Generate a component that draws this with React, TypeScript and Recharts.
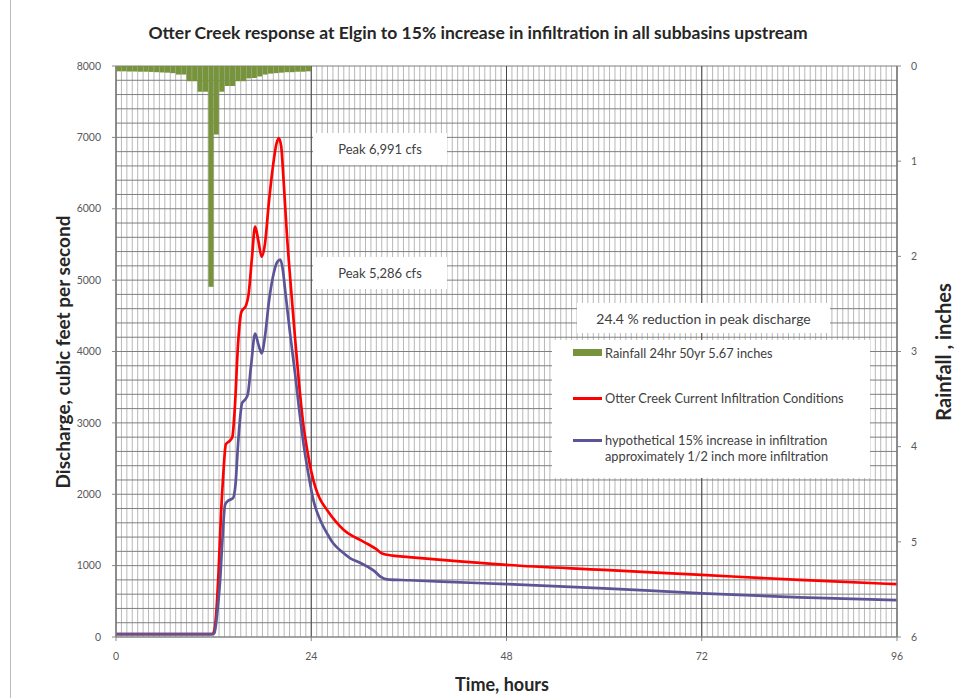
import React from 'react';
import { ComposedChart, Bar, Line, XAxis, YAxis, CartesianGrid } from 'recharts';

// rainfall, 40-minute blocks (centre of block, hours) and depth in inches
const rainTime = [
  0.33, 1, 1.67, 2.33, 3, 3.67, 4.33, 5, 5.67, 6.33, 7, 7.67,
  8.33, 9, 9.67, 10.33, 11, 11.67, 12.33, 13, 13.67, 14.33, 15, 15.67,
  16.33, 17, 17.67, 18.33, 19, 19.67, 20.33, 21, 21.67, 22.33, 23, 23.67
];
const rainInches = [
  0.056, 0.056, 0.058, 0.058, 0.06, 0.06, 0.062, 0.065, 0.068, 0.07, 0.075, 0.09,
  0.09, 0.16, 0.16, 0.27, 0.27, 2.32, 0.72, 0.27, 0.21, 0.21, 0.16, 0.16,
  0.13, 0.126, 0.11, 0.09, 0.08, 0.075, 0.07, 0.065, 0.065, 0.06, 0.06, 0.056
];

// Otter Creek, current infiltration conditions
const currentTime = [
  0, 11.8, 12.0, 12.3, 12.6, 12.9, 13.2, 13.5, 14.0, 14.3, 14.6, 15.0, 15.4, 16.0, 16.3,
  16.7, 17.1, 17.5, 17.9, 18.3, 18.8, 19.3, 19.7, 20.0, 20.3, 20.6, 21.0, 21.5, 22.0,
  22.5, 23.0, 23.5, 24.0, 24.5, 25.0, 26, 27, 28, 29, 30, 31, 32, 32.7, 34, 36, 40,
  48, 60, 72, 84, 96
];
const currentCfs = [
  40, 40, 60, 300, 900, 1700, 2300, 2700, 2750, 2800, 3200, 4100, 4550, 4650, 4800,
  5300, 5750, 5550, 5330, 5500, 6100, 6600, 6900, 6991, 6880, 6400, 5650, 4900, 4200,
  3550, 3000, 2620, 2320, 2100, 1950, 1770, 1620, 1500, 1420, 1360, 1300, 1230, 1170, 1140, 1120, 1080,
  1010, 940, 870, 800, 740
];

// hypothetical 15% increase in infiltration
const futureTime = [
  0, 11.9, 12.1, 12.5, 12.8, 13.1, 13.4, 13.7, 14.4, 14.7, 15.0, 15.5, 15.9, 16.2, 16.6,
  17.1, 17.5, 17.9, 18.3, 18.8, 19.3, 19.8, 20.2, 20.5, 20.8, 21.4, 22.0, 22.5, 23.0,
  23.7, 24.3, 25.1, 26.0, 26.7, 27.7, 28.8, 30.0, 30.9, 31.8, 32.5, 33.3, 36, 40,
  48, 60, 72, 84, 96
];
const futureCfs = [
  40, 40, 60, 400, 800, 1400, 1850, 1900, 1950, 2150, 2700, 3280, 3330, 3400, 3800,
  4250, 4100, 3975, 4200, 4700, 5050, 5250, 5286, 5150, 4850, 4250, 3700, 3200, 2750,
  2250, 1900, 1640, 1440, 1313, 1200, 1103, 1040, 985, 920, 845, 808, 795, 775,
  742, 682, 612, 556, 518
];

const hourTicks = [0, 24, 48, 72, 96];
const cfsTicks = [0, 1000, 2000, 3000, 4000, 5000, 6000, 7000, 8000];
const rainTicks = [0, 1, 2, 3, 4, 5, 6];
const minorHourTicks = Array.from({ length: 145 }, (_, i) => (i * 2) / 3);
const minorCfsTicks = Array.from({ length: 41 }, (_, i) => i * 200);

const rainRows = rainTime.map((t, i) => ({ t, rain: rainInches[i] }));
const currentRows = currentTime.map((t, i) => ({ t, q: currentCfs[i] }));
const futureRows = futureTime.map((t, i) => ({ t, q: futureCfs[i] }));

const GREEN = '#77933C';
const RED = '#ff0000';
const BLUE = '#5b5496';
const TICK = { fill: '#595959', fontSize: 10.5, fontFamily: 'Lato, sans-serif' };
const RAIN_BAR_W = 5.1;

// plot rectangle, used only to place the grid lines
const PLOT = { left: 116, top: 66, width: 781, height: 571 };

const xGrid = (vals: number[]) => (p: any) => {
  const o = p && p.offset ? p.offset : PLOT;
  return vals.map((v) => o.left + (o.width * v) / 96);
};
const yGrid = (vals: number[]) => (p: any) => {
  const o = p && p.offset ? p.offset : PLOT;
  return vals.map((v) => o.top + o.height * (1 - v / 8000));
};

// rain bars hang from the top; keep the library's x centre and height, fixed width
const RainBar = (p: any) => {
  if (p.x == null || p.height == null) return null;
  const y = Math.min(p.y, p.y + p.height);
  const h = Math.abs(p.height);
  const cx = p.x + p.width / 2;
  return <rect x={cx - RAIN_BAR_W / 2} y={y} width={RAIN_BAR_W} height={h} fill={GREEN} />;
};

const box: React.CSSProperties = {
  position: 'absolute',
  background: '#fff',
  display: 'flex',
  alignItems: 'center',
  justifyContent: 'center',
  color: '#404040',
  fontSize: 13,
};

const legendText: React.CSSProperties = {
  position: 'absolute',
  left: 53,
  fontSize: 12.8,
  color: '#404040',
  lineHeight: '16px',
  whiteSpace: 'nowrap',
};

export default function App() {
  return (
    <div
      style={{
        position: 'absolute',
        left: 0,
        top: 0,
        width: 960,
        height: 698,
        background: '#fff',
        fontFamily: 'Lato, sans-serif',
      }}
    >
      <div style={{ position: 'absolute', left: 10, top: 0, width: 1, height: 698, background: '#bbb' }} />
      <ComposedChart width={960} height={698} data={rainRows} margin={{ top: 66, right: 23, bottom: 31, left: 56 }}>
        <XAxis
          xAxisId="time"
          dataKey="t"
          type="number"
          domain={[0, 96]}
          ticks={hourTicks}
          height={30}
          tick={TICK}
          tickSize={4}
          tickMargin={12}
          axisLine={{ stroke: '#888' }}
          tickLine={{ stroke: '#888' }}
        />
        <YAxis
          yAxisId="q"
          type="number"
          domain={[0, 8000]}
          ticks={cfsTicks}
          width={60}
          tick={TICK}
          tickSize={4}
          tickMargin={11}
          axisLine={{ stroke: '#888' }}
          tickLine={{ stroke: '#888' }}
        />
        <YAxis
          yAxisId="rain"
          orientation="right"
          type="number"
          domain={[0, 6]}
          ticks={rainTicks}
          reversed
          width={40}
          tick={TICK}
          tickSize={4}
          tickMargin={10}
          axisLine={{ stroke: '#888' }}
          tickLine={{ stroke: '#888' }}
        />
        <CartesianGrid
          xAxisId="time"
          yAxisId="q"
          horizontal={false}
          verticalCoordinatesGenerator={xGrid(minorHourTicks)}
          stroke="#b8b8b8"
          strokeWidth={1}
        />
        <CartesianGrid
          xAxisId="time"
          yAxisId="q"
          vertical={false}
          horizontalCoordinatesGenerator={yGrid(minorCfsTicks)}
          stroke="#7f7f7f"
          strokeWidth={1}
        />
        <CartesianGrid
          xAxisId="time"
          yAxisId="q"
          horizontal={false}
          verticalCoordinatesGenerator={xGrid(hourTicks)}
          stroke="#444"
          strokeWidth={1}
        />
        <Bar
          xAxisId="time"
          yAxisId="rain"
          dataKey="rain"
          fill={GREEN}
          shape={RainBar}
          isAnimationActive={false}
        />
        <Line
          xAxisId="time"
          yAxisId="q"
          data={currentRows}
          dataKey="q"
          type="monotone"
          stroke={RED}
          strokeWidth={2.7}
          dot={false}
          isAnimationActive={false}
        />
        <Line
          xAxisId="time"
          yAxisId="q"
          data={futureRows}
          dataKey="q"
          type="monotone"
          stroke={BLUE}
          strokeWidth={2.7}
          dot={false}
          isAnimationActive={false}
        />
      </ComposedChart>

      <div
        style={{
          position: 'absolute',
          left: 0,
          top: 22,
          width: 956,
          textAlign: 'center',
          fontSize: 17.5,
          fontWeight: 700,
          color: '#262626',
        }}
      >
        Otter Creek response at Elgin to 15% increase in infiltration in all subbasins upstream
      </div>
      <div
        style={{
          position: 'absolute',
          left: 63 - 200,
          top: 352 - 14,
          width: 400,
          height: 28,
          lineHeight: '28px',
          textAlign: 'center',
          transform: 'rotate(-90deg)',
          fontSize: 19,
          fontWeight: 700,
          color: '#262626',
        }}
      >
        Discharge, cubic feet per second
      </div>
      <div
        style={{
          position: 'absolute',
          left: 943 - 150,
          top: 352 - 14,
          width: 300,
          height: 28,
          lineHeight: '28px',
          textAlign: 'center',
          transform: 'rotate(-90deg)',
          fontSize: 20,
          fontWeight: 700,
          color: '#262626',
        }}
      >
        Rainfall , inches
      </div>
      <div
        style={{
          position: 'absolute',
          left: 402,
          top: 673,
          width: 200,
          textAlign: 'center',
          fontSize: 18,
          fontWeight: 700,
          color: '#262626',
        }}
      >
        Time, hours
      </div>

      <div style={{ ...box, left: 313, top: 133, width: 134, height: 32 }}>Peak 6,991 cfs</div>
      <div style={{ ...box, left: 313, top: 257, width: 134, height: 32 }}>Peak 5,286 cfs</div>
      <div style={{ ...box, left: 577, top: 303, width: 253, height: 30, fontSize: 14 }}>
        24.4 % reduction in peak discharge
      </div>

      <div style={{ position: 'absolute', left: 552, top: 340, width: 318, height: 138, background: '#fff' }}>
        <div style={{ position: 'absolute', left: 21, top: 9, width: 29, height: 7, background: GREEN }} />
        <div style={{ ...legendText, top: 5 }}>Rainfall 24hr 50yr 5.67 inches</div>
        <div style={{ position: 'absolute', left: 21, top: 57, width: 29, height: 2.5, background: RED }} />
        <div style={{ ...legendText, top: 50 }}>Otter Creek Current Infiltration Conditions</div>
        <div style={{ position: 'absolute', left: 21, top: 99, width: 29, height: 2.5, background: BLUE }} />
        <div style={{ ...legendText, top: 92 }}>
          hypothetical 15% increase in infiltration
          <br />
          approximately 1/2 inch more infiltration
        </div>
      </div>
    </div>
  );
}
